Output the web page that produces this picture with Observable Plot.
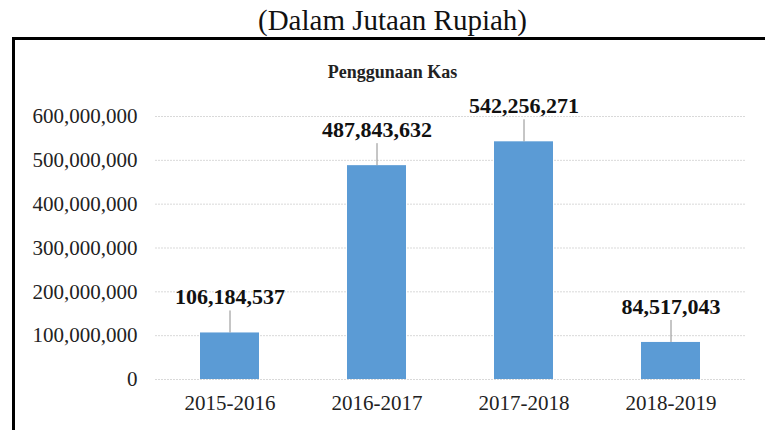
<!DOCTYPE html>
<html>
<head>
<meta charset="utf-8">
<script src="https://cdn.jsdelivr.net/npm/d3@7"></script>
<script src="https://cdn.jsdelivr.net/npm/@observablehq/plot@0.6"></script>
<style>
  html, body { margin: 0; padding: 0; width: 765px; height: 430px; overflow: hidden; background: #fff; }
  #box { position: absolute; left: 12px; top: 37px; width: 800px; height: 500px; border: 3px solid #000; box-sizing: border-box; }
  #chart { position: absolute; left: 0; top: 0; }
</style>
</head>
<body>
<div id="box"></div>
<div id="chart"></div>
<script>
const titleText = ["(Dalam Jutaan Rupiah)"];
const subtitleText = ["Penggunaan Kas"];
const categories = ["2015-2016", "2016-2017", "2017-2018", "2018-2019"];
const values = [106184537, 487843632, 542256271, 84517043];
const yTicks = [0, 100000000, 200000000, 300000000, 400000000, 500000000, 600000000];

const data = categories.map((c, i) => ({cat: c, v: values[i]}));
const fmt = d3.format(",");
const serif = "'Liberation Serif', 'Times New Roman', serif";

const plot = Plot.plot({
  width: 765,
  height: 430,
  marginLeft: 155,
  marginRight: 20,
  marginTop: 116,
  marginBottom: 51,
  style: { fontFamily: serif, fontSize: "21px", background: "transparent", color: "#222" },
  x: { domain: categories, paddingInner: 0.6, paddingOuter: 0.3, label: null, tickSize: 0, tickPadding: 16 },
  y: { domain: [0, 600000000], ticks: yTicks, tickFormat: fmt, label: null, tickSize: 0, tickPadding: 18 },
  marks: [
    Plot.gridY(yTicks, { stroke: "#d9d9d9", strokeOpacity: 1, strokeDasharray: "2,1" }),
    Plot.barY(data, { x: "cat", y: "v", fill: "#5B9BD5" }),
    Plot.ruleX(data, { x: "cat", y1: "v", y2: "v", insetTop: -22, stroke: "#8c8c8c", strokeWidth: 1 }),
    Plot.text(data, { x: "cat", y: "v", text: d => fmt(d.v), dy: -36, fontWeight: "bold", fontSize: 22, fill: "#111" }),
    Plot.text(titleText, { frameAnchor: "top", lineAnchor: "middle", text: d => d, dx: -58, dy: -96, fontSize: 29, fill: "#111" }),
    Plot.text(subtitleText, { frameAnchor: "top", lineAnchor: "middle", text: d => d, dx: -58, dy: -44, fontSize: 18, fontWeight: "bold", fill: "#222" })
  ]
});

document.getElementById("chart").appendChild(plot);
</script>
</body>
</html>
